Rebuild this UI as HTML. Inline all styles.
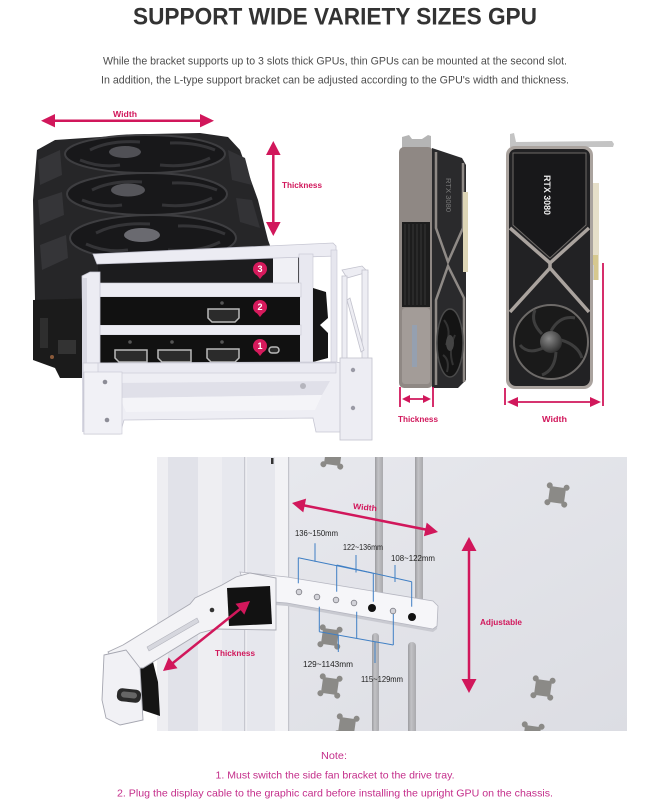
<!DOCTYPE html>
<html><head><meta charset="utf-8"><style>
html,body{margin:0;padding:0;background:#fff;width:670px;height:800px;overflow:hidden}
svg{display:block}
text{font-family:"Liberation Sans",Arial,sans-serif}
</style></head><body>
<svg width="670" height="800" viewBox="0 0 670 800" xmlns="http://www.w3.org/2000/svg">
<defs>
 <linearGradient id="panel" x1="0" y1="0" x2="1" y2="1">
  <stop offset="0" stop-color="#e9eaef"/><stop offset="1" stop-color="#dcdde3"/>
 </linearGradient>
 <radialGradient id="hub" cx="0.4" cy="0.35" r="0.7">
  <stop offset="0" stop-color="#8a8a8a"/><stop offset="1" stop-color="#2a2a2a"/>
 </radialGradient>
 <linearGradient id="strip" x1="0" y1="0" x2="1" y2="0">
  <stop offset="0" stop-color="#9c9ca0"/><stop offset="0.4" stop-color="#c2c2c5"/><stop offset="1" stop-color="#a9a9ad"/>
 </linearGradient>
 <clipPath id="photo"><rect x="157" y="457" width="470" height="274"/></clipPath>
</defs>

<!-- ===== Title & subtitle ===== -->
<text x="335" y="24.3" text-anchor="middle" font-size="24" font-weight="bold" fill="#333" textLength="404" lengthAdjust="spacingAndGlyphs">SUPPORT WIDE VARIETY SIZES GPU</text>
<text x="335" y="64.3" text-anchor="middle" font-size="10.6" fill="#4d4d4d" textLength="464" lengthAdjust="spacingAndGlyphs">While the bracket supports up to 3 slots thick GPUs, thin GPUs can be mounted at the second slot.</text>
<text x="335" y="83.3" text-anchor="middle" font-size="10.6" fill="#4d4d4d" textLength="468" lengthAdjust="spacingAndGlyphs">In addition, the L-type support bracket can be adjusted according to the GPU's width and thickness.</text>

<!-- ===== Top-left GPU ===== -->
<polygon points="37,150 55,140 100,137 150,134 200,133 228,137 240,150 258,200 268,240 276,262 276,290 100,290 100,305 85,312 40,325 35,300 33,200" fill="#262628"/>
<polygon points="38,160 60,150 62,175 40,185" fill="#353538"/>
<polygon points="38,200 62,192 64,215 40,225" fill="#353538"/>
<polygon points="40,245 66,235 68,258 42,270" fill="#353538"/>
<polygon points="228,150 245,158 252,185 232,180" fill="#333336"/>
<polygon points="236,198 252,200 260,228 240,222" fill="#333336"/>
<!-- PCB -->
<polygon points="33,300 100,298 100,372 88,378 60,378 55,368 33,360" fill="#1b1b1b"/>
<rect x="40" y="318" width="8" height="30" fill="#2e2e2e"/>
<rect x="58" y="340" width="18" height="14" fill="#333"/>
<circle cx="52" cy="357" r="2" fill="#8a5a3a"/>
<!-- fans -->
<g stroke-width="2">
 <ellipse cx="145" cy="154" rx="80" ry="19" fill="#18181a" stroke="#3e3e41"/>
 <ellipse cx="147" cy="194" rx="80" ry="21" fill="#18181a" stroke="#3e3e41"/>
 <ellipse cx="153" cy="238" rx="83" ry="23" fill="#18181a" stroke="#3e3e41"/>
</g>
<g fill="none" stroke="#343437" stroke-width="3">
 <path d="M90,150 Q110,140 140,142"/><path d="M160,165 Q190,168 210,158"/><path d="M80,160 Q100,168 120,165"/><path d="M170,143 Q195,142 215,150"/>
 <path d="M92,190 Q112,180 142,182"/><path d="M162,205 Q192,208 212,198"/><path d="M82,200 Q102,208 122,205"/><path d="M172,183 Q197,182 217,190"/>
 <path d="M96,233 Q118,222 150,224"/><path d="M168,250 Q198,253 220,242"/><path d="M86,244 Q106,253 128,250"/><path d="M178,226 Q204,225 225,234"/>
</g>
<ellipse cx="125" cy="152" rx="16" ry="6" fill="#505055"/>
<ellipse cx="128" cy="190" rx="17" ry="6.5" fill="#55555a"/>
<ellipse cx="142" cy="235" rx="18" ry="7" fill="#6a6a70"/>

<!-- dark behind bracket -->
<rect x="98" y="255" width="204" height="118" fill="#1c1c1e"/>
<rect x="273" y="257" width="25" height="26" fill="#f0f0f5"/>
<!-- heatpipes -->
<g stroke="#555" stroke-width="3" fill="none"><path d="M120,300 L135,328"/><path d="M130,300 L145,328"/><path d="M140,300 L152,328"/></g>
<rect x="165" y="300" width="12" height="28" fill="#2a2a2a"/>
<!-- back top bar -->
<polygon points="93,254 333,243 336,246 336,256 97,264" fill="#ececf3" stroke="#c6c6d2" stroke-width="0.8"/>
<rect x="331" y="250" width="6" height="133" fill="#e6e6ee" stroke="#c6c6d2" stroke-width="0.6"/>
<!-- right post -->
<rect x="299" y="254" width="14" height="126" fill="#e8e8f0" stroke="#c6c6d2" stroke-width="0.6"/>
<!-- black IO bracket -->
<polygon points="313,288 326,292 328,318 320,325 328,333 328,358 313,362" fill="#161616"/>
<!-- bars -->
<rect x="98" y="283" width="203" height="14" fill="#ececf3" stroke="#c8c8d3" stroke-width="0.6"/>
<rect x="98" y="325" width="203" height="10" fill="#ececf3" stroke="#c8c8d3" stroke-width="0.6"/>
<rect x="98" y="297" width="202" height="28" fill="#111"/>
<rect x="98" y="335" width="202" height="28" fill="#111"/>
<!-- connectors -->
<g fill="#2b2b2b" stroke="#b9b9b9" stroke-width="1.5">
 <path d="M208,309 h31 v9 l-4,4 h-23 l-4,-4 z"/>
 <path d="M207,349 h32 v9 l-4,4 h-24 l-4,-4 z"/>
 <path d="M115,350 h32 v12 h-28 l-4,-4 z"/>
 <path d="M158,350 h33 v12 h-29 l-4,-4 z"/>
 <rect x="269" y="347" width="10" height="6" rx="3"/>
</g>
<g fill="#555"><circle cx="222" cy="303" r="1.8"/><circle cx="222" cy="342" r="1.8"/><circle cx="172" cy="342" r="1.8"/><circle cx="130" cy="342" r="1.8"/></g>
<!-- left posts -->
<polygon points="82,276 90,272 100,272 100,432 84,432" fill="#ececf3" stroke="#c6c6d2" stroke-width="0.8"/>
<rect x="82" y="278" width="5" height="154" fill="#d9d9e3"/>
<!-- bottom plate -->
<polygon points="83,363 336,362 350,365 350,432 316,432 313,418 124,420 120,434 84,434" fill="#eeeef4" stroke="#c6c6d2" stroke-width="0.8"/>
<rect x="98" y="363" width="238" height="10" fill="#e9e9f1" stroke="#c9c9d4" stroke-width="0.6"/>
<polygon points="112,383 330,381 322,395 120,398" fill="#e0e0e9"/>
<polygon points="120,398 322,395 315,410 126,412" fill="#f4f4f8"/>
<circle cx="303" cy="386" r="3" fill="#b5b5bd"/>
<rect x="84" y="372" width="38" height="62" fill="#f1f1f6" stroke="#c6c6d2" stroke-width="0.6"/>
<circle cx="105" cy="382" r="2.3" fill="#8d8d97"/>
<circle cx="107" cy="420" r="2.3" fill="#8d8d97"/>
<!-- right rear frame -->
<g fill="#ededf3" stroke="#c2c2cd" stroke-width="0.8">
 <polygon points="342,270 362,266 368,272 347,278"/>
 <rect x="342" y="276" width="5" height="90"/>
 <rect x="362" y="270" width="6" height="95"/>
 <polygon points="347,300 350,298 364,350 361,352"/>
 <rect x="340" y="358" width="32" height="82"/>
</g>
<circle cx="353" cy="370" r="2.2" fill="#9a9aa5"/>
<circle cx="353" cy="408" r="2.2" fill="#9a9aa5"/>
<!-- pins -->
<g fill="#d61a5c">
 <circle cx="260" cy="269" r="7"/><polygon points="256,274 264,274 260,279"/>
 <circle cx="260" cy="307" r="7"/><polygon points="256,312 264,312 260,317"/>
 <circle cx="260" cy="346" r="7"/><polygon points="256,351 264,351 260,356"/>
</g>
<g fill="#fff" font-size="9" font-weight="bold" text-anchor="middle">
 <text x="260" y="272.2">3</text><text x="260" y="310.2">2</text><text x="260" y="349.2">1</text>
</g>

<!-- top-left arrows -->
<g fill="#d1175b" stroke="none">
 <polygon points="41,120.7 55,114 55,127.4"/><polygon points="214,120.7 200,114 200,127.4"/>
 <polygon points="273.3,141 266,155 280.6,155"/><polygon points="273.3,236 266,222 280.6,222"/>
</g>
<g stroke="#d1175b" stroke-width="2.5">
 <line x1="52" y1="120.7" x2="203" y2="120.7"/>
 <line x1="273.3" y1="152" x2="273.3" y2="225"/>
</g>
<g fill="#d1175b" font-weight="bold" font-size="8">
 <text x="113" y="117" textLength="24" lengthAdjust="spacingAndGlyphs">Width</text>
 <text x="282" y="188" textLength="40" lengthAdjust="spacingAndGlyphs">Thickness</text>
</g>

<!-- ===== GPU 1 (side) ===== -->
<polygon points="402,148 402,137 409,135 412,139 422,139 428,135 431,136 431,148" fill="#b5b5b5"/>
<rect x="399" y="147" width="34" height="241" rx="5" fill="#8f8884"/>
<rect x="402" y="222" width="28" height="85" fill="#1d1d1d"/>
<g stroke="#383838" stroke-width="1">
 <line x1="405" y1="224" x2="405" y2="305"/><line x1="409" y1="224" x2="409" y2="305"/><line x1="413" y1="224" x2="413" y2="305"/><line x1="417" y1="224" x2="417" y2="305"/><line x1="421" y1="224" x2="421" y2="305"/><line x1="425" y1="224" x2="425" y2="305"/>
</g>
<rect x="402" y="308" width="28" height="76" rx="3" fill="#a39c98"/>
<rect x="412" y="325" width="5" height="42" fill="#8ea2ba" opacity="0.7"/>
<polygon points="432,148 462,158 466,165 466,380 458,388 432,388" fill="#2a2a2c"/>
<g fill="none" stroke="#8f8a86" stroke-width="2.5">
 <path d="M436,152 L436,228 L448,262 L463,228 L463,163"/>
 <path d="M436,385 L436,300 L448,266 L464,298 L464,382"/>
</g>
<ellipse cx="450" cy="343" rx="13" ry="34" fill="#141414" stroke="#4a4a4a" stroke-width="1.5"/>
<g fill="none" stroke="#333" stroke-width="2"><path d="M444,320 Q452,330 446,345"/><path d="M455,335 Q448,350 453,365"/><path d="M443,355 Q450,360 447,372"/></g>
<ellipse cx="450" cy="343" rx="4" ry="8" fill="#444"/>
<text transform="translate(446,178) rotate(90)" font-size="7" fill="#7a7a7a" textLength="34" lengthAdjust="spacingAndGlyphs">RTX 3080</text>
<rect x="463" y="192" width="5" height="80" fill="#ddd5b6"/>

<!-- ===== GPU 2 (front) ===== -->
<polygon points="510,147 510,134 514,133 516,142 612,141 614,144 613,147" fill="#c4c4c4"/>
<rect x="590" y="183" width="9" height="97" fill="#e6dfc9"/>
<rect x="591" y="255" width="7" height="25" fill="#d6c88f"/>
<rect x="588" y="265" width="6" height="15" fill="#cfcfcf"/>
<rect x="506" y="146" width="87" height="243" rx="9" fill="#aaa39e"/>
<rect x="509" y="149" width="81" height="237" rx="7" fill="#222224"/>
<path d="M513,153 H586 V225 L550,258 L513,225 Z" fill="#18181a" stroke="#6e6a67" stroke-width="1"/>
<g fill="none" stroke="#aaa39e" stroke-width="3.5">
 <path d="M510,228 L550,263 L589,228"/>
 <path d="M510,312 L550,268 L589,312"/>
 <line x1="550" y1="262" x2="550" y2="269"/>
</g>
<circle cx="551" cy="342" r="37" fill="#1a1a1a" stroke="#6d6a68" stroke-width="2"/>
<g fill="none" stroke="#3e3e3e" stroke-width="3">
 <path d="M551,331 Q560,315 575,318"/><path d="M561,340 Q578,345 582,358"/><path d="M556,352 Q555,370 542,375"/><path d="M543,348 Q528,355 520,345"/><path d="M542,334 Q530,322 535,310"/>
</g>
<circle cx="551" cy="342" r="11" fill="url(#hub)"/>
<text transform="translate(544,175) rotate(90)" font-size="9" font-weight="bold" fill="#eee" textLength="40" lengthAdjust="spacingAndGlyphs">RTX 3080</text>

<!-- right arrows -->
<g stroke="#d1175b" stroke-width="1.8">
 <line x1="400" y1="387" x2="400" y2="407"/><line x1="433" y1="387" x2="433" y2="407"/>
 <line x1="407" y1="399" x2="426" y2="399"/>
 <line x1="505" y1="388" x2="505" y2="405"/><line x1="603" y1="263" x2="603" y2="406"/>
 <line x1="515" y1="402" x2="593" y2="402"/>
</g>
<g fill="#d1175b">
 <polygon points="402,399 410,395 410,403"/><polygon points="431,399 423,395 423,403"/>
 <polygon points="507,402 518,397 518,407"/><polygon points="601,402 590,397 590,407"/>
</g>
<g fill="#d1175b" font-weight="bold" font-size="8">
 <text x="398" y="422" textLength="40" lengthAdjust="spacingAndGlyphs">Thickness</text>
 <text x="542" y="422" textLength="25" lengthAdjust="spacingAndGlyphs">Width</text>
</g>

<!-- ===== Bottom photo ===== -->
<g clip-path="url(#photo)">
 <rect x="157" y="457" width="470" height="274" fill="url(#panel)"/>
 <rect x="157" y="457" width="131" height="274" fill="#eeeef2"/>
 <rect x="168" y="457" width="30" height="274" fill="#e1e2e9"/>
 <rect x="222" y="457" width="22" height="274" fill="#e7e8ee"/>
 <rect x="244" y="457" width="1.2" height="274" fill="#c6c7cf"/>
 <rect x="247" y="457" width="28" height="274" fill="#e6e7ed"/>
 <rect x="275" y="457" width="13" height="274" fill="#f2f2f5"/>
 <rect x="288" y="457" width="1.2" height="274" fill="#c3c4cb"/>
 <rect x="271" y="458" width="2.5" height="6" fill="#333"/>
 <!-- cutouts -->
 <g fill="#8b8a87">
  <g transform="translate(333,457) rotate(8)"><rect x="-8" y="-8" width="16" height="16"/><circle cx="-8.5" cy="-8.5" r="3"/><circle cx="8.5" cy="-8.5" r="3"/><circle cx="-8.5" cy="8.5" r="3"/><circle cx="8.5" cy="8.5" r="3"/></g>
  <g transform="translate(557,495) rotate(8)"><rect x="-8" y="-8" width="16" height="16"/><circle cx="-8.5" cy="-8.5" r="3"/><circle cx="8.5" cy="-8.5" r="3"/><circle cx="-8.5" cy="8.5" r="3"/><circle cx="8.5" cy="8.5" r="3"/></g>
  <g transform="translate(330,637) rotate(8)"><rect x="-8" y="-8" width="16" height="16"/><circle cx="-8.5" cy="-8.5" r="3"/><circle cx="8.5" cy="-8.5" r="3"/><circle cx="-8.5" cy="8.5" r="3"/><circle cx="8.5" cy="8.5" r="3"/></g>
  <g transform="translate(330,686) rotate(8)"><rect x="-8" y="-8" width="16" height="16"/><circle cx="-8.5" cy="-8.5" r="3"/><circle cx="8.5" cy="-8.5" r="3"/><circle cx="-8.5" cy="8.5" r="3"/><circle cx="8.5" cy="8.5" r="3"/></g>
  <g transform="translate(347,726) rotate(8)"><rect x="-8" y="-8" width="16" height="16"/><circle cx="-8.5" cy="-8.5" r="3"/><circle cx="8.5" cy="-8.5" r="3"/><circle cx="-8.5" cy="8.5" r="3"/><circle cx="8.5" cy="8.5" r="3"/></g>
  <g transform="translate(543,688) rotate(8)"><rect x="-8" y="-8" width="16" height="16"/><circle cx="-8.5" cy="-8.5" r="3"/><circle cx="8.5" cy="-8.5" r="3"/><circle cx="-8.5" cy="8.5" r="3"/><circle cx="8.5" cy="8.5" r="3"/></g>
  <g transform="translate(532,734) rotate(8)"><rect x="-8" y="-8" width="16" height="16"/><circle cx="-8.5" cy="-8.5" r="3"/><circle cx="8.5" cy="-8.5" r="3"/><circle cx="-8.5" cy="8.5" r="3"/><circle cx="8.5" cy="8.5" r="3"/></g>
 </g>
 <!-- metal strips -->
 <rect x="375" y="455" width="8" height="138" fill="url(#strip)"/>
 <rect x="372" y="633" width="7" height="100" rx="3.5" fill="url(#strip)"/>
 <rect x="415" y="455" width="8" height="146" fill="url(#strip)"/>
 <rect x="408" y="642" width="8" height="92" rx="4" fill="url(#strip)"/>
</g>

<!-- main bracket bar -->
<polygon points="240,576 287,580 433,604 438,609 437,629 433,632 287,606 250,603" fill="#c9cad1"/>
<polygon points="240,572 287,577 433,601 438,606 437,626 433,629 287,603 250,600" fill="#f6f6f9" stroke="#b5b6c0" stroke-width="0.8"/>
<!-- bar holes -->
<g fill="#d3d3d9" stroke="#7e7e86" stroke-width="0.8">
 <circle cx="299" cy="592" r="2.8"/><circle cx="317" cy="597" r="2.8"/><circle cx="336" cy="600" r="2.8"/><circle cx="354" cy="603" r="2.8"/><circle cx="393" cy="611" r="2.8"/>
</g>
<circle cx="372" cy="608" r="4" fill="#111"/>
<circle cx="412" cy="617" r="4" fill="#111"/>

<!-- L arm -->
<polygon points="128,652 150,650 158,682 160,716 142,710 136,672" fill="#151515"/>
<polygon points="276,578 250,573 236,577 222,585 195,598 190,604 123,645 108,652 118,668 143,668 200,633 215,629 276,630" fill="#f3f3f6" stroke="#a9aab3" stroke-width="0.9"/>
<polygon points="147,647 197,618 199,622 149,651" fill="#d6d7de" stroke="#b3b4bd" stroke-width="0.6"/>
<polygon points="104,655 126,650 140,668 143,720 120,725 106,718 102,700" fill="#f1f1f5" stroke="#a5a6b0" stroke-width="0.9"/>
<rect x="117" y="689" width="24" height="13" rx="5" fill="#2a2a2a" transform="rotate(6 129 695)"/>
<rect x="121" y="692" width="16" height="6" rx="3" fill="#666" transform="rotate(6 129 695)"/>
<polygon points="227,588 270,586 272,624 229,626" fill="#121212"/>
<circle cx="212" cy="610" r="2.3" fill="#333"/>

<!-- blue dimension lines -->
<g stroke="#3f7fc4" stroke-width="1" fill="none">
 <line x1="298.3" y1="557.7" x2="373.3" y2="573.3"/>
 <line x1="336.7" y1="565" x2="411.7" y2="581.7"/>
 <line x1="298.3" y1="557.7" x2="298.3" y2="583.3"/>
 <line x1="373.3" y1="573.3" x2="373.3" y2="601.7"/>
 <line x1="336.7" y1="565" x2="336.7" y2="591.7"/>
 <line x1="411.7" y1="581.7" x2="411.7" y2="606.7"/>
 <line x1="315" y1="543.3" x2="315" y2="561.7"/>
 <line x1="356" y1="555" x2="356" y2="572.5"/>
 <line x1="395" y1="565" x2="395" y2="582"/>
 <line x1="319.3" y1="606.7" x2="319.3" y2="631.7"/>
 <line x1="356.7" y1="611.7" x2="356.7" y2="638.3"/>
 <line x1="393.3" y1="614" x2="393.3" y2="645"/>
 <line x1="319.3" y1="631.7" x2="393.3" y2="645"/>
 <line x1="338.3" y1="635" x2="338.3" y2="652"/>
 <line x1="375" y1="641.5" x2="375" y2="663"/>
</g>
<g fill="#222" font-size="8.5">
 <text x="295" y="536" textLength="43" lengthAdjust="spacingAndGlyphs">136~150mm</text>
 <text x="343" y="550" textLength="40" lengthAdjust="spacingAndGlyphs">122~136mm</text>
 <text x="391" y="561" textLength="44" lengthAdjust="spacingAndGlyphs">108~122mm</text>
 <text x="303" y="667" textLength="50" lengthAdjust="spacingAndGlyphs">129~1143mm</text>
 <text x="361" y="682" textLength="42" lengthAdjust="spacingAndGlyphs">115~129mm</text>
</g>

<!-- bottom arrows -->
<g stroke="#d1175b" stroke-width="2.5">
 <line x1="302" y1="505" x2="428" y2="530"/>
 <line x1="469" y1="549" x2="469" y2="681"/>
 <line x1="171" y1="664.5" x2="242" y2="607.5"/>
</g>
<g fill="#d1175b">
 <polygon points="292,503 303.3,512.4 306.1,498.6"/>
 <polygon points="438,532 423.9,536.3 426.7,522.6"/>
 <polygon points="469,537 461.5,551 476.5,551"/>
 <polygon points="469,693 461.5,679 476.5,679"/>
 <polygon points="163,671 177.5,668.3 168.7,657.4"/>
 <polygon points="250,601 244.3,614.6 235.5,603.7"/>
</g>
<g fill="#d1175b" font-weight="bold" font-size="8">
 <text x="353" y="510" textLength="24" lengthAdjust="spacingAndGlyphs" transform="rotate(6 365 507)">Width</text>
 <text x="480" y="625" textLength="42" lengthAdjust="spacingAndGlyphs">Adjustable</text>
 <text x="215" y="656" textLength="40" lengthAdjust="spacingAndGlyphs">Thickness</text>
</g>

<!-- ===== Notes ===== -->
<g fill="#c42d8a" font-size="10.5" text-anchor="middle">
 <text x="334" y="758.8" textLength="26" lengthAdjust="spacingAndGlyphs">Note:</text>
 <text x="335" y="778.4" textLength="239" lengthAdjust="spacingAndGlyphs">1. Must switch the side fan bracket to the drive tray.</text>
 <text x="335" y="796.7" textLength="436" lengthAdjust="spacingAndGlyphs">2. Plug the display cable to the graphic card before installing the upright GPU on the chassis.</text>
</g>
</svg>
</body></html>
